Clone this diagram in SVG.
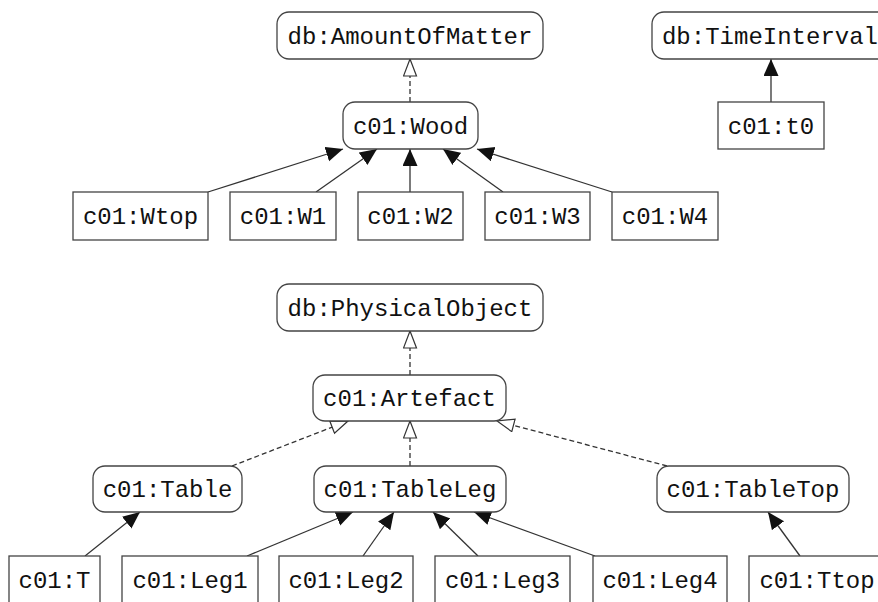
<svg xmlns="http://www.w3.org/2000/svg" width="878" height="602" viewBox="0 0 878 602">
<defs>
<style>
.n rect{fill:#fff;stroke:#444;stroke-width:1.3}
.n text{font-family:"Liberation Mono","Courier New",monospace;font-size:24px;fill:#111;text-anchor:middle}
.e line{stroke:#333;stroke-width:1.3;fill:none}
.e .d{stroke-dasharray:5,3}
</style>
<marker id="fa" markerUnits="userSpaceOnUse" markerWidth="20" markerHeight="16" refX="17" refY="7.5" orient="auto">
<path d="M0,0 L17,7.5 L0,15 z" fill="#111"/>
</marker>
<marker id="ha" markerUnits="userSpaceOnUse" markerWidth="20" markerHeight="16" refX="18" refY="7" orient="auto">
<path d="M1,0.5 L18,7 L1,13.5 z" fill="#fff" stroke="#333" stroke-width="1.2"/>
</marker>
</defs>
<rect width="878" height="602" fill="#fff"/>
<g class="e" id="connectors">
<line class="d" x1="410" y1="102" x2="410" y2="59" marker-end="url(#ha)"/>
<line x1="771" y1="102" x2="771" y2="59" marker-end="url(#fa)"/>
<line x1="208" y1="192" x2="343" y2="149" marker-end="url(#fa)"/>
<line x1="316" y1="192" x2="377" y2="149" marker-end="url(#fa)"/>
<line x1="410" y1="192" x2="410" y2="149" marker-end="url(#fa)"/>
<line x1="503" y1="192" x2="443" y2="149" marker-end="url(#fa)"/>
<line x1="612" y1="192" x2="477" y2="149" marker-end="url(#fa)"/>
<line class="d" x1="410" y1="375" x2="410" y2="331" marker-end="url(#ha)"/>
<line class="d" x1="232" y1="466" x2="348" y2="421" marker-end="url(#ha)"/>
<line class="d" x1="410" y1="466" x2="410" y2="421" marker-end="url(#ha)"/>
<line class="d" x1="667" y1="466" x2="497" y2="421" marker-end="url(#ha)"/>
<line x1="85" y1="556" x2="140" y2="512" marker-end="url(#fa)"/>
<line x1="247" y1="556" x2="353" y2="512" marker-end="url(#fa)"/>
<line x1="363" y1="556" x2="394" y2="512" marker-end="url(#fa)"/>
<line x1="478" y1="556" x2="433" y2="512" marker-end="url(#fa)"/>
<line x1="595" y1="556" x2="474" y2="512" marker-end="url(#fa)"/>
<line x1="800" y1="556" x2="768" y2="512" marker-end="url(#fa)"/>
</g>
<g class="n" id="AmountOfMatter"><rect x="277" y="12" width="266" height="47" rx="12"/><text x="410" y="43.5">db:AmountOfMatter</text></g>
<g class="n" id="TimeInterval"><rect x="652" y="12" width="240" height="47" rx="12"/><text x="770" y="43.5">db:TimeInterval</text></g>
<g class="n" id="Wood"><rect x="343" y="102" width="135" height="47" rx="12"/><text x="410.5" y="133.5">c01:Wood</text></g>
<g class="n" id="t0"><rect x="718" y="102" width="106" height="47"/><text x="771" y="133.5">c01:t0</text></g>
<g class="n" id="Wtop"><rect x="73" y="192" width="135" height="48"/><text x="140.5" y="224">c01:Wtop</text></g>
<g class="n" id="W1"><rect x="230" y="192" width="106" height="48"/><text x="283" y="224">c01:W1</text></g>
<g class="n" id="W2"><rect x="358" y="192" width="105" height="48"/><text x="410.5" y="224">c01:W2</text></g>
<g class="n" id="W3"><rect x="485" y="192" width="105" height="48"/><text x="537.5" y="224">c01:W3</text></g>
<g class="n" id="W4"><rect x="612" y="192" width="106" height="48"/><text x="665" y="224">c01:W4</text></g>
<g class="n" id="PhysicalObject"><rect x="277" y="284" width="266" height="47" rx="12"/><text x="410" y="315.5">db:PhysicalObject</text></g>
<g class="n" id="Artefact"><rect x="313" y="375" width="193" height="46" rx="12"/><text x="409.5" y="406">c01:Artefact</text></g>
<g class="n" id="Table"><rect x="93" y="466" width="149" height="46" rx="12"/><text x="167.5" y="497">c01:Table</text></g>
<g class="n" id="TableLeg"><rect x="314" y="466" width="192" height="46" rx="12"/><text x="410" y="497">c01:TableLeg</text></g>
<g class="n" id="TableTop"><rect x="657" y="466" width="192" height="46" rx="12"/><text x="753" y="497">c01:TableTop</text></g>
<g class="n" id="T"><rect x="9" y="556" width="91" height="48"/><text x="54.5" y="588">c01:T</text></g>
<g class="n" id="Leg1"><rect x="122" y="556" width="136" height="48"/><text x="190" y="588">c01:Leg1</text></g>
<g class="n" id="Leg2"><rect x="279" y="556" width="134" height="48"/><text x="346" y="588">c01:Leg2</text></g>
<g class="n" id="Leg3"><rect x="435" y="556" width="135" height="48"/><text x="502.5" y="588">c01:Leg3</text></g>
<g class="n" id="Leg4"><rect x="593" y="556" width="134" height="48"/><text x="660" y="588">c01:Leg4</text></g>
<g class="n" id="Ttop"><rect x="749" y="556" width="136" height="48"/><text x="817" y="588">c01:Ttop</text></g>
</svg>
